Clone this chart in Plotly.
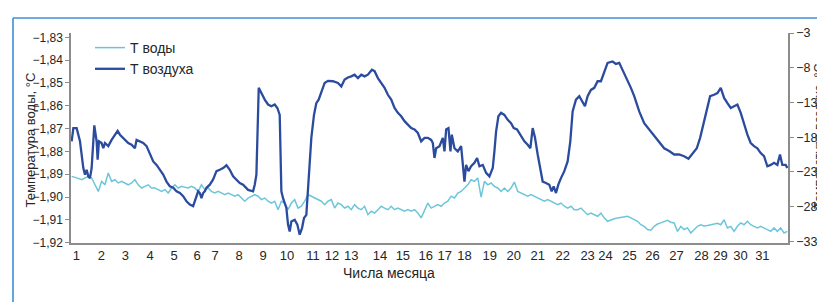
import plotly.graph_objects as go

# ---- data -------------------------------------------------------------
# observation number (x), day tick positions on that scale
day_labels = [str(d) for d in range(1, 32)]
day_tick_obs = [1.4, 8.9, 16.1, 23.6, 30.8, 37.7, 43.1, 50.3, 57.5, 64.7,
                72.5, 78.2, 84.0, 92.6, 99.5, 106.4, 112.1, 118.0, 125.6, 132.8,
                140.0, 147.5, 155.0, 160.4, 167.6, 174.5, 181.7, 189.2, 194.9, 200.9,
                207.5]

# water temperature, °C (left axis), one reading per observation
water_temp = [
    -1.8909, -1.8912, -1.8918, -1.8924, -1.8915, -1.8909, -1.8916, -1.8946, -1.8975, -1.8931, -1.8946,
    -1.8894, -1.8931, -1.8924, -1.8938, -1.8931, -1.8938, -1.8946, -1.8938, -1.8924, -1.8946,
    -1.8960, -1.8953, -1.8946, -1.8960, -1.8960, -1.8967, -1.8975, -1.8967, -1.8982, -1.8960,
    -1.8946, -1.8960, -1.8953, -1.8957, -1.8960, -1.8953, -1.8960, -1.8975, -1.8946, -1.8967,
    -1.8960, -1.8975, -1.8982, -1.8975, -1.8982, -1.8989, -1.8982, -1.8989, -1.8996, -1.8989,
    -1.9004, -1.9018,
    -1.9004, -1.8996, -1.8989, -1.8996, -1.9011, -1.9004, -1.9018, -1.9026, -1.9018, -1.9055,
    -1.9018, -1.9026, -1.9055, -1.9026, -1.9011, -1.9048, -1.9040, -1.9018, -1.8989, -1.8996,
    -1.9004, -1.9011, -1.9018, -1.9033, -1.9018, -1.9011, -1.9048, -1.9026, -1.9033, -1.9048,
    -1.9040, -1.9055, -1.9033, -1.9048, -1.9055, -1.9040, -1.9077, -1.9062, -1.9070, -1.9055,
    -1.9040, -1.9048, -1.9055, -1.9040, -1.9055, -1.9048, -1.9055, -1.9062, -1.9055, -1.9062,
    -1.9055, -1.9070, -1.9091, -1.9055,
    -1.9026, -1.9048, -1.9040, -1.9033, -1.9040, -1.9026, -1.9018, -1.8996, -1.9004, -1.8982,
    -1.8975, -1.8960, -1.8946, -1.8924, -1.8931, -1.8916, -1.9000, -1.8931, -1.8946, -1.8938,
    -1.8953, -1.8960, -1.8975, -1.8960, -1.8975, -1.8960, -1.8934, -1.8975, -1.8982, -1.8989,
    -1.8996, -1.8989, -1.8996, -1.9004, -1.9011, -1.9018, -1.9011, -1.9018, -1.9026, -1.9033,
    -1.9026, -1.9040, -1.9048, -1.9040, -1.9055, -1.9055, -1.9048, -1.9062, -1.9077, -1.9070,
    -1.9077, -1.9084, -1.9070, -1.9091,
    -1.9106, -1.9099, -1.9095, -1.9091, -1.9088, -1.9086, -1.9084, -1.9091, -1.9097, -1.9106,
    -1.9121, -1.9128, -1.9142, -1.9145, -1.9128, -1.9118, -1.9113, -1.9108, -1.9102, -1.9110,
    -1.9113, -1.9150, -1.9128, -1.9142, -1.9135, -1.9157, -1.9142, -1.9128, -1.9121, -1.9126,
    -1.9124, -1.9121, -1.9116, -1.9115, -1.9121, -1.9099, -1.9135, -1.9128, -1.9150, -1.9128,
    -1.9113, -1.9121, -1.9106, -1.9121, -1.9128, -1.9135, -1.9128, -1.9135, -1.9142, -1.9150,
    -1.9135, -1.9150, -1.9135, -1.9157, -1.9150,
]
water_obs = list(range(len(water_temp)))

# air temperature, °C (right axis)
air_obs = [
    0, 0.5, 1.5, 2, 2.5, 3.5, 4, 4.5, 5, 5.5, 6, 6.8, 7.5, 7.8, 8.2,
    9, 9.5, 10, 11, 12, 13, 13.8, 14.5, 15.5, 17, 18, 19, 19.5, 20.5, 21.5,
    22.5, 23.5, 24.5, 25.5, 26.5, 27.5, 28.5, 29.5, 30.5, 31.5, 32.5, 33.5, 34.5, 35.5, 36.5,
    37, 37.5, 38, 38.5, 39, 39.5, 40, 40.5, 41.5, 42.5, 43.5, 44.5, 45.5, 46.5, 47.5,
    48.5, 49.5, 50.5, 51.5, 52.5, 53, 54.5, 55, 55.5, 55.8, 56.2, 57, 58, 59, 60,
    61, 61.8, 62.5, 62.8, 63, 63.5, 64, 64.5, 65, 65.5, 66, 67, 67.8, 68.5, 69.2,
    69.8, 70.5, 71, 71.5, 72, 72.8, 73.5, 74.2, 75, 76, 77, 78.5, 80, 81, 82,
    83, 84, 85, 86, 87, 88, 89, 90.2, 91, 92, 93, 94, 95, 96, 97,
    98, 99, 100, 101, 102, 103, 104, 105, 106, 107, 108, 108.5, 109, 109.5, 110.5,
    111.5, 112, 112.5, 113.2, 113.8, 114.2, 115, 116, 117, 117.5, 118, 118.5, 119.2, 120, 121,
    121.8, 122.5, 123.5, 124.5, 125.5, 126.5, 127, 127.5, 128.2, 129, 130, 131, 132, 132.8, 133.8,
    134.8, 136, 137, 137.8, 138.5, 139.2, 140, 140.8, 141.5, 142.5, 143.5, 144.2, 144.8, 145.5, 146.2,
    147, 148, 149, 149.8, 150.5, 151.5, 152.5, 153.5, 154.2, 155, 156, 157, 158, 159, 159.8,
    160.5, 161, 162.5, 163.5, 164.5, 165.5, 166.5, 168, 169, 170.5, 172, 173.5, 175, 176.5, 178,
    179.5, 181, 182.5, 184, 185.3, 186.5, 187.8, 188.8, 189.8, 190.8, 191.8, 193, 194, 195, 196,
    197, 198, 199, 200, 201, 202, 203, 204, 205, 206, 207, 208, 209, 210, 211,
    212, 212.8, 213.5, 214.5, 215,
]
air_temp = [
    -18.6, -16.7, -16.7, -17.65, -18.6, -22.45, -23.4, -22.7, -23.65, -23.9, -22.45, -16.3, -18.6, -21.25, -18.6,
    -18.85, -19.6, -18.85, -19.3, -18.4, -17.65, -17.1, -17.65, -18.1, -18.85, -19.1, -19.6, -18.4, -18.6, -18.85,
    -19.3, -20.3, -21.5, -22.0, -22.7, -23.4, -24.4, -25.1, -25.3, -25.8, -26.05, -26.5, -27.25, -27.7, -27.95,
    -27.25, -26.3, -25.8, -26.05, -26.8, -26.05, -25.8, -25.3, -24.85, -24.1, -22.9, -22.7, -22.45, -22.05, -22.7,
    -23.65, -24.1, -24.6, -24.85, -25.3, -25.6, -25.8, -24.85, -23.4, -16.7, -10.9, -11.65, -12.6, -13.3, -13.55,
    -13.3, -13.8, -14.8, -21.5, -25.8, -26.8, -27.7, -28.2, -30.6, -31.6, -30.15, -29.9, -30.6, -32.05, -31.1,
    -29.65, -29.2, -25.3, -21.5, -18.1, -14.8, -13.1, -12.6, -11.4, -10.2, -9.9, -9.95, -10.2, -10.7, -9.7,
    -9.4, -9.25, -9.0, -9.5, -9.0, -9.25, -9.0, -8.3, -8.5, -9.5, -10.2, -10.9, -11.9, -12.6, -13.8,
    -14.5, -15.0, -15.7, -16.2, -16.7, -16.9, -17.4, -18.6, -18.1, -18.1, -18.4, -18.85, -21.0, -19.6, -19.3,
    -18.1, -20.05, -16.9, -16.7, -20.05, -17.65, -19.6, -20.05, -19.3, -21.5, -24.4, -22.0, -22.9, -22.2, -21.7,
    -21.0, -22.2, -22.0, -23.15, -23.65, -22.45, -20.05, -17.2, -15.0, -14.5, -14.8, -15.5, -16.0, -16.7, -16.9,
    -17.65, -18.6, -19.1, -19.6, -16.7, -18.1, -20.5, -22.45, -24.4, -24.6, -24.85, -25.8, -25.1, -26.05, -24.85,
    -23.9, -22.9, -21.5, -18.6, -14.3, -12.6, -12.1, -12.85, -13.55, -12.1, -11.2, -10.9, -9.95, -9.95, -8.75,
    -8.05, -7.3, -7.1, -7.45, -7.3, -8.3, -9.5, -10.9, -12.1, -14.3, -16.0, -16.9, -17.65, -18.6, -19.6,
    -20.0, -20.5, -20.5, -20.75, -21.1, -20.3, -19.6, -18.1, -16.0, -13.8, -12.1, -11.9, -11.65, -10.9, -12.35,
    -13.1, -13.8, -13.55, -13.3, -14.5, -16.2, -17.65, -18.85, -19.3, -19.6, -20.3, -20.75, -22.2, -22.0, -21.7,
    -22.0, -20.5, -22.0, -22.0, -22.45,
]

# ---- figure -----------------------------------------------------------
W, H = 825, 302
L, R, T, B = 63, 45, 25, 67
PW, PH = W - L - R, H - T - B


def px_x(px):
    return (px - L) / PW


def px_y(py):
    return (H - B - py) / PH


AXIS_COL = "#8c8c8c"
TXT = "#262626"
FONT = "Liberation Sans, Arial, sans-serif"

fig = go.Figure()
fig.add_trace(go.Scatter(x=water_obs, y=water_temp, name="Т воды", mode="lines",
                         line=dict(color="#6cc6da", width=1.5), yaxis="y",
                         legendgroup="w"))
fig.add_trace(go.Scatter(x=air_obs, y=air_temp, name="Т воздуха", mode="lines",
                         line=dict(color="#2b4c9e", width=2.3), yaxis="y2",
                         legendgroup="a"))

fig.update_layout(
    width=W, height=H, autosize=False,
    margin=dict(l=L, r=R, t=T, b=B, pad=0),
    paper_bgcolor="white", plot_bgcolor="white",
    separators=", ",
    font=dict(family=FONT, color=TXT, size=12),
    xaxis=dict(range=[-0.2, 215.2], tickmode="array", tickvals=day_tick_obs,
               ticktext=day_labels, showline=True, linecolor=AXIS_COL, linewidth=1.5,
               showgrid=False, zeroline=False, ticks="", tickfont=dict(size=13)),
    yaxis=dict(range=[-1.9201, -1.8281], tick0=-1.92, dtick=0.01, tickformat=".2f",
               showline=True, linecolor=AXIS_COL, linewidth=1.5, ticks="outside",
               ticklen=4, tickcolor=AXIS_COL, showgrid=False, zeroline=False,
               tickfont=dict(size=12)),
    yaxis2=dict(range=[-33.25, -3], tick0=-33, dtick=5, overlaying="y", side="right",
                showline=True, linecolor=AXIS_COL, linewidth=1.5, ticks="outside",
                ticklen=4, tickcolor=AXIS_COL, showgrid=False, zeroline=False,
                tickfont=dict(size=12.5)),
    legend=dict(x=px_x(82), y=px_y(24), xanchor="left", yanchor="top",
                font=dict(size=14, color=TXT), bgcolor="rgba(0,0,0,0)",
                tracegroupgap=3, traceorder="normal"),
    showlegend=True,
)

fig.add_annotation(text="Числа месяца", xref="paper", yref="paper",
                   x=px_x(381), y=px_y(275), showarrow=False,
                   font=dict(size=14, color=TXT))
fig.add_annotation(text="Температура воды, °С", xref="paper", yref="paper",
                   x=px_x(12), y=px_y(132), showarrow=False, textangle=-90,
                   font=dict(size=13, color=TXT))
fig.add_annotation(text="Температура воздуха, °С", xref="paper", yref="paper",
                   x=px_x(820), y=px_y(128), showarrow=False, textangle=-90,
                   font=dict(size=12.5, color=TXT))

BLUE = "#3d8fd6"
fig.add_shape(type="line", xref="paper", yref="paper", x0=px_x(5), x1=px_x(826),
              y0=px_y(10), y1=px_y(10), line=dict(color=BLUE, width=1.6))
fig.add_shape(type="line", xref="paper", yref="paper", x0=px_x(5), x1=px_x(5),
              y0=px_y(10), y1=px_y(303), line=dict(color=BLUE, width=1.6))
fig.add_shape(type="rect", xref="paper", yref="paper", x0=px_x(819), x1=px_x(826),
              y0=px_y(197), y1=px_y(214), line=dict(width=0), fillcolor=BLUE)

fig.write_html("out.html")
